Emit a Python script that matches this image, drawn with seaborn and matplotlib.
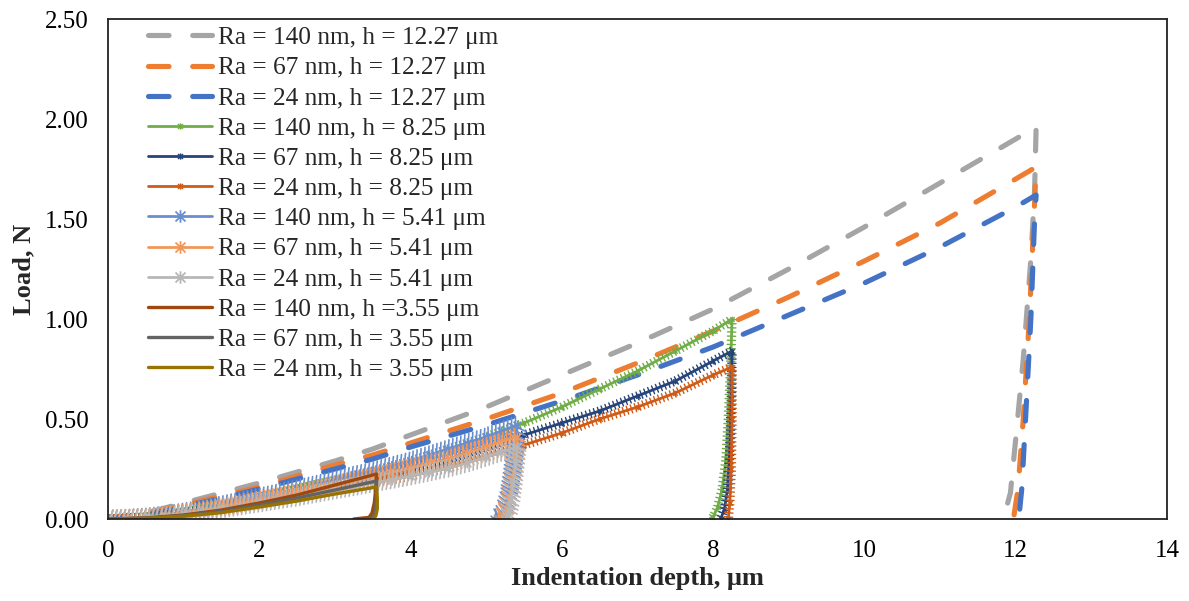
import numpy as np
import pandas as pd
import matplotlib
matplotlib.use("Agg")
import matplotlib.pyplot as plt
import matplotlib.patheffects as pe
from matplotlib.path import Path
from matplotlib.lines import Line2D
import seaborn as sns

# ---------------- data ----------------
# h = 12.27 um series (dashed)
x_1227_140 = [0, 0.5, 1, 1.5, 2, 2.5, 3, 3.5, 4, 5, 6, 7, 8, 9, 10, 11, 12, 12.27,
              12.25, 12.2, 12.1, 12.0, 11.93, 11.85, 11.73]
y_1227_140 = [0, 0.03, 0.08, 0.13, 0.18, 0.235, 0.29, 0.35, 0.42, 0.56, 0.72, 0.88, 1.05, 1.25, 1.46, 1.68, 1.90, 1.96,
              1.65, 1.30, 0.80, 0.40, 0.13, 0.02, 0]
x_1227_67 = [0, 0.5, 1, 1.5, 2, 2.5, 3, 3.5, 4, 5, 6, 7, 8, 9, 10, 11, 12, 12.27,
             12.24, 12.18, 12.1, 12.03, 11.97]
y_1227_67 = [0, 0.025, 0.07, 0.115, 0.16, 0.215, 0.27, 0.32, 0.38, 0.50, 0.63, 0.78, 0.94, 1.11, 1.29, 1.48, 1.70, 1.76,
             1.50, 1.00, 0.50, 0.15, 0]
x_1227_24 = [0, 0.5, 1, 1.5, 2, 2.5, 3, 3.5, 4, 5, 6, 7, 8, 9, 10, 11, 12, 12.27,
             12.25, 12.2, 12.13, 12.08, 12.04]
y_1227_24 = [0, 0.02, 0.06, 0.105, 0.15, 0.20, 0.25, 0.30, 0.36, 0.47, 0.59, 0.72, 0.86, 1.02, 1.18, 1.36, 1.56, 1.62,
             1.50, 1.00, 0.50, 0.15, 0]

# h = 8.25 um series
x_825_140 = [0, 0.5, 1, 1.5, 2, 2.5, 3, 3.5, 4, 4.5, 5, 5.5, 6, 6.5, 7, 7.5, 8, 8.25,
             8.23, 8.2, 8.17, 8.12, 8.06, 8.0, 7.97]
y_825_140 = [0, 0.01, 0.035, 0.07, 0.11, 0.15, 0.195, 0.24, 0.29, 0.35, 0.41, 0.48, 0.56, 0.65, 0.74, 0.84, 0.94, 1.00,
             0.75, 0.50, 0.30, 0.15, 0.06, 0.01, 0]
x_825_67 = [0, 0.5, 1, 1.5, 2, 2.5, 3, 3.5, 4, 4.5, 5, 5.5, 6, 6.5, 7, 7.5, 8, 8.25,
            8.24, 8.22, 8.19, 8.15, 8.1]
y_825_67 = [0, 0.008, 0.03, 0.06, 0.095, 0.13, 0.17, 0.21, 0.255, 0.30, 0.36, 0.42, 0.48, 0.54, 0.615, 0.69, 0.79, 0.84,
            0.60, 0.35, 0.15, 0.05, 0]
x_825_24 = [0, 0.5, 1, 1.5, 2, 2.5, 3, 3.5, 4, 4.5, 5, 5.5, 6, 6.5, 7, 7.5, 8, 8.25,
            8.25, 8.24, 8.22, 8.2]
y_825_24 = [0, 0.006, 0.025, 0.05, 0.08, 0.11, 0.145, 0.18, 0.215, 0.255, 0.31, 0.37, 0.43, 0.50, 0.56, 0.63, 0.72, 0.76,
            0.50, 0.25, 0.08, 0]

# h = 5.41 um series
x_541_140 = [0, 0.25, 0.5, 0.75, 1, 1.25, 1.5, 1.75, 2, 2.25, 2.5, 2.75, 3, 3.25, 3.5, 3.75, 4, 4.25, 4.5, 4.75, 5, 5.2, 5.41,
             5.39, 5.35, 5.3, 5.24, 5.17, 5.1]
y_541_140 = [0, 0.004, 0.01, 0.02, 0.035, 0.05, 0.07, 0.09, 0.11, 0.13, 0.15, 0.172, 0.195, 0.218, 0.24, 0.265, 0.29, 0.32, 0.35, 0.38, 0.41, 0.44, 0.47,
             0.38, 0.25, 0.13, 0.05, 0.01, 0]
x_541_67 = [0, 0.25, 0.5, 0.75, 1, 1.25, 1.5, 1.75, 2, 2.25, 2.5, 2.75, 3, 3.25, 3.5, 3.75, 4, 4.25, 4.5, 4.75, 5, 5.2, 5.41,
            5.39, 5.35, 5.3, 5.25, 5.2, 5.15]
y_541_67 = [0, 0.003, 0.008, 0.018, 0.03, 0.044, 0.06, 0.078, 0.095, 0.112, 0.13, 0.15, 0.17, 0.19, 0.21, 0.232, 0.255, 0.278, 0.30, 0.33, 0.36, 0.385, 0.41,
            0.32, 0.20, 0.10, 0.04, 0.01, 0]
x_541_24 = [0, 0.25, 0.5, 0.75, 1, 1.25, 1.5, 1.75, 2, 2.25, 2.5, 2.75, 3, 3.25, 3.5, 3.75, 4, 4.25, 4.5, 4.75, 5, 5.2, 5.41,
            5.39, 5.36, 5.33, 5.3, 5.27, 5.25]
y_541_24 = [0, 0.002, 0.006, 0.014, 0.025, 0.037, 0.05, 0.065, 0.08, 0.095, 0.11, 0.128, 0.145, 0.162, 0.18, 0.197, 0.215, 0.235, 0.255, 0.28, 0.31, 0.335, 0.36,
            0.28, 0.18, 0.10, 0.04, 0.01, 0]

# h = 3.55 um series
x_355_140 = [0, 0.5, 1, 1.5, 2, 2.5, 3, 3.55, 3.54, 3.52, 3.49, 3.45, 3.25]
y_355_140 = [0, 0.005, 0.02, 0.045, 0.08, 0.12, 0.17, 0.225, 0.15, 0.08, 0.03, 0.008, 0]
x_355_67 = [0, 0.5, 1, 1.5, 2, 2.5, 3, 3.55, 3.55, 3.54, 3.52, 3.48, 3.42]
y_355_67 = [0, 0.004, 0.017, 0.038, 0.07, 0.105, 0.145, 0.19, 0.12, 0.06, 0.02, 0.003, 0]
x_355_24 = [0, 0.5, 1, 1.5, 2, 2.5, 3, 3.55, 3.56, 3.56, 3.54, 3.5]
y_355_24 = [0, 0.003, 0.014, 0.032, 0.06, 0.09, 0.125, 0.16, 0.10, 0.05, 0.015, 0]

labels = [
    "Ra = 140 nm, h = 12.27 μm",
    "Ra = 67 nm, h = 12.27 μm",
    "Ra = 24 nm, h = 12.27 μm",
    "Ra = 140 nm, h = 8.25 μm",
    "Ra = 67 nm, h = 8.25 μm",
    "Ra = 24 nm, h = 8.25 μm",
    "Ra = 140 nm, h = 5.41 μm",
    "Ra = 67 nm, h = 5.41 μm",
    "Ra = 24 nm, h = 5.41 μm",
    "Ra = 140 nm, h =3.55 μm",
    "Ra = 67 nm, h = 3.55 μm",
    "Ra = 24 nm, h = 3.55 μm",
]
colors = ["#A5A5A5", "#ED7D31", "#4472C4",
          "#70AD47", "#264478", "#CF5B17",
          "#698ED0", "#F1975A", "#B7B7B7",
          "#9E480E", "#636363", "#997300"]
xs = [x_1227_140, x_1227_67, x_1227_24, x_825_140, x_825_67, x_825_24,
      x_541_140, x_541_67, x_541_24, x_355_140, x_355_67, x_355_24]
ys = [y_1227_140, y_1227_67, y_1227_24, y_825_140, y_825_67, y_825_24,
      y_541_140, y_541_67, y_541_24, y_355_140, y_355_67, y_355_24]
groups = ["dash"] * 3 + ["small"] * 3 + ["star"] * 3 + ["plain"] * 3

# ---------------- style ----------------
sns.set_theme(style="white")
plt.rcParams["font.family"] = ["Liberation Serif", "DejaVu Serif"]

star = Path([(-1, -1), (1, 1), (-1, 1), (1, -1), (0, -1.25), (0, 1.25)],
            [Path.MOVETO, Path.LINETO, Path.MOVETO, Path.LINETO, Path.MOVETO, Path.LINETO])

fig = plt.figure(figsize=(11.89, 6.01), dpi=100)
ax = fig.add_axes([108 / 1189, 1 - 519 / 601, (1167 - 108) / 1189, (519 - 19) / 601])

DASH = (4, 4.6)
handles = []
for lab, x, y, c, g in zip(labels, xs, ys, colors, groups):
    df = pd.DataFrame({"x": x, "y": y})
    n_before = len(ax.lines)
    if g == "dash":
        sns.lineplot(data=df, x="x", y="y", sort=False, estimator=None, ax=ax,
                     color=c, linewidth=3.7)
        ln = ax.lines[n_before]
        ln.set_dashes(DASH)
        ln.set_dash_capstyle("round")
        ln.set_solid_capstyle("round")
        handles.append(Line2D([], [], color=c, lw=3.7, dashes=DASH, dash_capstyle="round"))
    elif g == "small":
        sns.lineplot(data=df, x="x", y="y", sort=False, estimator=None, ax=ax,
                     color=c, linewidth=2.0)
        ln = ax.lines[n_before]
        ln.set_path_effects([
            pe.TickedStroke(spacing=3.0, angle=90, length=1.0, linewidth=1.0),
            pe.TickedStroke(spacing=3.0, angle=-90, length=1.0, linewidth=1.0),
            pe.Normal()])
        ax.plot(x, y, linestyle="none", marker=star, ms=4, mew=1.0, mec=c, mfc="none")
        handles.append(Line2D([], [], color=c, lw=2.0, marker=star, ms=4.5, mew=1.0, mfc="none"))
    elif g == "star":
        sns.lineplot(data=df, x="x", y="y", sort=False, estimator=None, ax=ax,
                     color=c, linewidth=2.0)
        ln = ax.lines[n_before]
        ln.set_path_effects([
            pe.TickedStroke(spacing=3.0, angle=70, length=2.2, linewidth=1.2),
            pe.TickedStroke(spacing=3.0, angle=-110, length=2.2, linewidth=1.2),
            pe.Normal()])
        ax.plot(x, y, linestyle="none", marker=star, ms=7, mew=1.1, mec=c, mfc="none")
        handles.append(Line2D([], [], color=c, lw=2.0, marker=star, ms=9, mew=1.3, mfc="none"))
    else:
        sns.lineplot(data=df, x="x", y="y", sort=False, estimator=None, ax=ax,
                     color=c, linewidth=2.4)
        handles.append(Line2D([], [], color=c, lw=2.4))

ax.set_xlim(0, 14)
ax.set_ylim(0, 2.5)
ax.set_xticks(np.arange(0, 15, 2))
ax.set_yticks(np.arange(0, 2.51, 0.5))
ax.set_yticklabels([f"{v:.2f}" for v in np.arange(0, 2.51, 0.5)])
ax.tick_params(axis="both", length=0, labelsize=18, colors="black")
ax.tick_params(axis="x", pad=15)
ax.tick_params(axis="y", pad=14)
for s in ax.spines.values():
    s.set_visible(True)
    s.set_color("#222222")
    s.set_linewidth(1.3)
ax.set_xlabel("Indentation depth, μm", fontsize=19, fontweight="bold", labelpad=4)
ax.set_ylabel("Load, N", fontsize=19, fontweight="bold", labelpad=7)
ax.grid(False)

leg = ax.legend(handles, labels, loc="upper left", bbox_to_anchor=(0.038, 0.985),
                frameon=False, fontsize=18.3, handlelength=2.52, handletextpad=0.24,
                labelspacing=0.29, borderpad=0, borderaxespad=0)

fig.savefig("out.png", dpi=100)
